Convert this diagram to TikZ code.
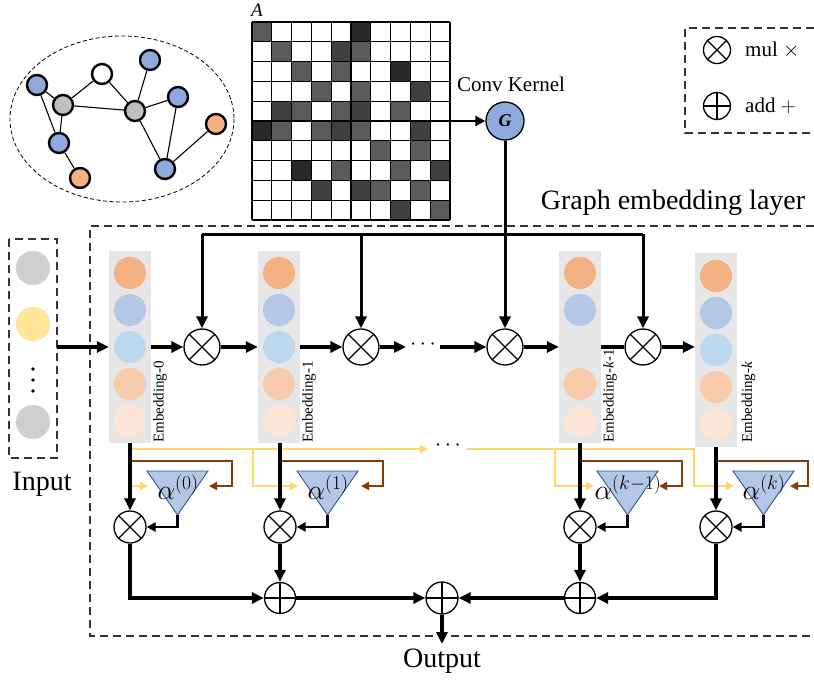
\documentclass[tikz,border=0pt]{standalone}
\usepackage{fix-cm}
\usepackage{fontspec}
\setmainfont{Liberation Serif}
\usetikzlibrary{arrows.meta,calc}
\definecolor{gblue}{HTML}{8EA9DB}
\definecolor{ggray}{HTML}{BFBFBF}
\definecolor{gorange}{HTML}{F4B183}
\definecolor{mg}{HTML}{5A5A5A}
\definecolor{dg}{HTML}{404040}
\definecolor{kg}{HTML}{282828}
\definecolor{embgray}{HTML}{E7E6E6}
\definecolor{eoa}{HTML}{F4B183}
\definecolor{eba}{HTML}{B4C7E7}
\definecolor{ebl}{HTML}{BDD7EE}
\definecolor{eob}{HTML}{F8CBAD}
\definecolor{eoc}{HTML}{FBE5D6}
\definecolor{ingray}{HTML}{D0CECE}
\definecolor{inyel}{HTML}{FFE699}
\definecolor{ylw}{HTML}{FFD966}
\definecolor{brw}{HTML}{843C0C}
\definecolor{trifill}{HTML}{B4C7E7}
\definecolor{tridraw}{HTML}{2F5597}
\definecolor{dashc}{HTML}{333333}
\tikzset{
  arrowtip/.style={-{Triangle[length=12pt,width=11pt]}},
  smalltip/.style={-{Triangle[length=8pt,width=8pt]}},
  flowarr/.style={line width=3.5pt, arrowtip},
  flowline/.style={line width=3.5pt},
  toparr/.style={line width=3pt, arrowtip},
  alphaarr/.style={line width=2.5pt, -{Triangle[length=9pt,width=9pt]}},
  ylwline/.style={draw=ylw, line width=2.6pt},
  brwline/.style={draw=brw, line width=2.6pt},
  gnode/.style={circle, draw=black, line width=2.4pt, minimum size=20pt, inner sep=0pt},
  mulnode/.style={circle, draw=black, line width=1.3pt, fill=white, minimum size=#1, inner sep=0pt,
    path picture={\draw[line width=1.1pt] (path picture bounding box.north west) -- (path picture bounding box.south east)
      (path picture bounding box.north east) -- (path picture bounding box.south west);}},
  addnode/.style={circle, draw=black, line width=1.3pt, fill=white, minimum size=#1, inner sep=0pt,
    path picture={\draw[line width=1.1pt] (path picture bounding box.north) -- (path picture bounding box.south)
      (path picture bounding box.east) -- (path picture bounding box.west);}},
  embbox/.style={fill=embgray, minimum width=42pt, minimum height=192pt, inner sep=0pt},
  embdot/.style={circle, minimum size=32pt, inner sep=0pt},
  emblab/.style={rotate=90, anchor=west, inner sep=0pt, font=\fontsize{15}{16}\selectfont},
  dashbox/.style={draw=dashc, line width=1.3pt, dash pattern=on 8pt off 5pt},
  bigtext/.style={font=\fontsize{28}{32}\selectfont, inner sep=1pt},
}
\begin{document}
\begin{tikzpicture}[x=1pt,y=-1pt]
\useasboundingbox (0,0) rectangle (814,682);

% ---------- graph ----------
\draw[line width=0.8pt, dash pattern=on 4pt off 2.5pt] (122,119) ellipse [x radius=112, y radius=83];
\node[gnode, fill=gblue]   (n1) at (37,85) {};
\node[gnode, fill=ggray]   (n2) at (63,105) {};
\node[gnode, fill=white]   (n3) at (102,74) {};
\node[gnode, fill=gblue]   (n4) at (150,60) {};
\node[gnode, fill=ggray]   (n5) at (135,111) {};
\node[gnode, fill=gblue]   (n6) at (178,97) {};
\node[gnode, fill=gorange] (n7) at (216,124) {};
\node[gnode, fill=gblue]   (n8) at (59,143) {};
\node[gnode, fill=gorange] (n9) at (80,178) {};
\node[gnode, fill=gblue]   (n10) at (165,169) {};
\begin{scope}[line width=1.1pt]
\draw (n1) -- (n2); \draw (n1) -- (n8); \draw (n2) -- (n3); \draw (n2) -- (n5);
\draw (n2) -- (n8); \draw (n3) -- (n5); \draw (n4) -- (n5); \draw (n5) -- (n6);
\draw (n5) -- (n10); \draw (n6) -- (n10); \draw (n10) -- (n7); \draw (n8) -- (n9);
\end{scope}

% ---------- matrix ----------
\node[font=\fontsize{19}{20}\selectfont\itshape, inner sep=0pt] (Alab) at (257,10) {A};
\foreach \r/\c/\s in {0/0/mg,0/5/kg,1/1/mg,1/4/dg,1/5/mg,2/2/mg,2/4/mg,2/7/kg,3/3/mg,3/5/mg,3/8/dg,
  4/1/dg,4/2/mg,4/4/mg,4/5/dg,4/7/mg,5/0/kg,5/1/mg,5/3/mg,5/4/dg,5/5/mg,5/8/dg,6/6/mg,6/8/mg,
  7/2/kg,7/4/mg,7/7/mg,7/9/dg,8/3/dg,8/5/dg,8/6/mg,8/8/mg,9/7/dg,9/9/mg}
  \fill[\s] (252+\c*19.8, 22+\r*19.8) rectangle (271.8+\c*19.8, 41.8+\r*19.8);
\foreach \i in {0,...,10} {
  \draw[line width=1.1pt] (252+\i*19.8,22) -- (252+\i*19.8,220);
  \draw[line width=1.1pt] (252,22+\i*19.8) -- (450,22+\i*19.8);
}
\coordinate (matR) at (450,121);

% ---------- conv kernel ----------
\node[circle, draw=black, line width=1.3pt, fill=gblue, minimum size=38pt, inner sep=0pt,
  font=\fontsize{18}{18}\selectfont\bfseries\itshape] (G) at (505,121) {G};
\node[font=\fontsize{21}{24}\selectfont, inner sep=0pt] (conv) at (511,84) {Conv Kernel};
\draw[line width=2.5pt, -{Triangle[length=10pt,width=10pt]}] (matR) -- (G.west);

% ---------- legend ----------
\draw[dashbox] (814,28) -- (685,28) -- (685,133) -- (814,133);
\node[mulnode=27pt] (lm) at (717,50) {};
\node[addnode=27pt] (la) at (717,106) {};
\node[font=\fontsize{21}{24}\selectfont, anchor=west, inner sep=0pt] (lmt) at (745,50) {mul $\times$};
\node[font=\fontsize{21}{24}\selectfont, anchor=west, inner sep=0pt] (lat) at (745,106) {add $+$};

% ---------- layer box ----------
\draw[dashbox] (814,226) -- (90,226) -- (90,636) -- (814,636);
\node[bigtext] (gel) at (673,203) {Graph embedding layer};

% ---------- input ----------
\draw[dashbox] (9,239) rectangle (57,458);
\node[circle, draw=eba!60, line width=0.5pt, fill=ingray, minimum size=34pt, inner sep=0pt] (i1) at (33,268) {};
\node[circle, draw=eob!60, line width=0.5pt, fill=inyel, minimum size=34pt, inner sep=0pt] (i2) at (33,324) {};
\node[circle, draw=eba!60, line width=0.5pt, fill=ingray, minimum size=34pt, inner sep=0pt] (i3) at (33,422) {};
\foreach \yy in {369,380,391} \fill (33,\yy) circle [radius=1.8];
\node[bigtext] (inp) at (42,484) {Input};
\coordinate (inR) at (57,347);

% ---------- embeddings ----------
\node[embbox] (e0) at (130,347) {};
\node[embbox] (e1) at (279,347) {};
\node[embbox] (ek1) at (580,347) {};
\node[embbox, minimum height=194pt] (ek) at (716,350) {};
\foreach \e in {e0,e1,ek} {
  \foreach \dy/\col [count=\i] in {-74/eoa,-37/eba,0/ebl,37/eob,74/eoc}
    \node[embdot, fill=\col] (\e c\i) at ($(\e)+(0,\dy)$) {};
}
\foreach \dy/\col [count=\i] in {-74/eoa,-37/eba,37/eob,74/eoc}
  \node[embdot, fill=\col] (ek1c\i) at ($(ek1)+(0,\dy)$) {};
\node[emblab] (lab0) at (160,443) {Embedding-0};
\node[emblab] (lab1) at (309,443) {Embedding-1};
\node[emblab] (labk1) at (610,443) {Embedding-\textit{k}-1};
\node[emblab] (labk) at (748.5,443) {Embedding-\textit{k}};

% ---------- top multipliers ----------
\node[mulnode=36pt] (m1) at (202,347) {};
\node[mulnode=36pt] (m2) at (361,347) {};
\node[mulnode=36pt] (m3) at (505,347) {};
\node[mulnode=36pt] (m4) at (643,347) {};
\coordinate (topy) at (0,234);
\draw[line width=3pt] (m1 |- topy) -- (m4 |- topy);
\draw[toparr] (m1 |- topy) -- (m1.north);
\draw[toparr] (m2 |- topy) -- (m2.north);
\draw[toparr] (m4 |- topy) -- (m4.north);
\draw[toparr] (G.south) -- (m3.north);

\draw[flowarr] (inR) -- (e0.west);
\draw[flowarr] (e0.east) -- (m1.west);
\draw[flowarr] (m1.east) -- (e1.west);
\draw[flowarr] (e1.east) -- (m2.west);
\coordinate (d1a) at (406,347);
\coordinate (d1b) at (440,347);
\draw[flowarr] (m2.east) -- (d1a);
\node[font=\fontsize{22}{22}\selectfont, inner sep=0pt] (dots1) at (423,345) {$\cdots$};
\draw[flowarr] (d1b) -- (m3.west);
\draw[flowarr] (m3.east) -- (ek1.west);
\draw[flowline] (ek1.east) -- (m4.west);
\draw[flowarr] (m4.east) -- (m4.east -| ek.west);

% ---------- yellow lines ----------
\coordinate (y0) at (130,449);
\coordinate (yd1) at (428,449);
\coordinate (yd2) at (467,449);
\coordinate (yend) at (694,449);
\draw[ylwline, smalltip] (y0) -- (yd1);
\node[font=\fontsize{22}{22}\selectfont, inner sep=0pt] (dots2) at (448,446) {$\cdots$};
\draw[ylwline, smalltip] (yd2) -- (yend) |- (734,486);
\draw[ylwline, smalltip] (y0) |- (148,486);
\draw[ylwline, smalltip] (253,449) |- (298,486);
\draw[ylwline, smalltip] (555,449) |- (594,486);

% ---------- alpha triangles ----------
\foreach \n/\x/\lab/\bx/\tx in {0/130/{(0)}/232/209, 1/280/{(1)}/383/361, k1/580/{(k-1)}/682/659, k/716/{(k)}/808/790} {
  \draw[brwline, smalltip] (\x,461) -| (\bx,486) -- (\tx,486);
  \filldraw[fill=trifill, draw=tridraw, line width=0.9pt] (\x+17,471) -- (\x+78,471) -- (\x+47.5,515) -- cycle;
  \coordinate (ta\n) at (\x+47.5,515);
  \node[font=\fontsize{28}{30}\selectfont, inner sep=0pt] (al\n) at (\x+48,487) {$\alpha^{\lab}$};
}

% ---------- bottom multipliers and adders ----------
\node[mulnode=32pt] (b0) at (130,527) {};
\node[mulnode=32pt] (b1) at (280,527) {};
\node[mulnode=32pt] (bk1) at (580,527) {};
\node[mulnode=32pt] (bk) at (716,527) {};
\node[addnode=31pt] (a1) at (280,598) {};
\node[addnode=32pt] (ac) at (442,598) {};
\node[addnode=31pt] (ak1) at (580,598) {};

\draw[flowarr] (e0.south) -- (b0.north);
\draw[flowarr] (e1.south -| b1) -- (b1.north);
\draw[flowarr] (ek1.south) -- (bk1.north);
\draw[flowarr] (ek.south) -- (bk.north);

\draw[alphaarr] (ta0) |- (b0.east);
\draw[alphaarr] (ta1) |- (b1.east);
\draw[alphaarr] (tak1) |- (bk1.east);
\draw[alphaarr] (tak) |- (bk.east);

\draw[flowarr] (b0.south) |- (a1.west);
\draw[flowarr] (b1.south) -- (a1.north);
\draw[flowarr] (a1.east) -- (ac.west);
\draw[flowarr] (bk1.south) -- (ak1.north);
\draw[flowarr] (bk.south) |- (ak1.east);
\draw[flowarr] (ak1.west) -- (ac.east);

\coordinate (outTip) at (442,644);
\draw[flowarr] (ac.south) -- (outTip);
\node[bigtext] (outp) at (442,661) {Output};
\end{tikzpicture}
\end{document}
